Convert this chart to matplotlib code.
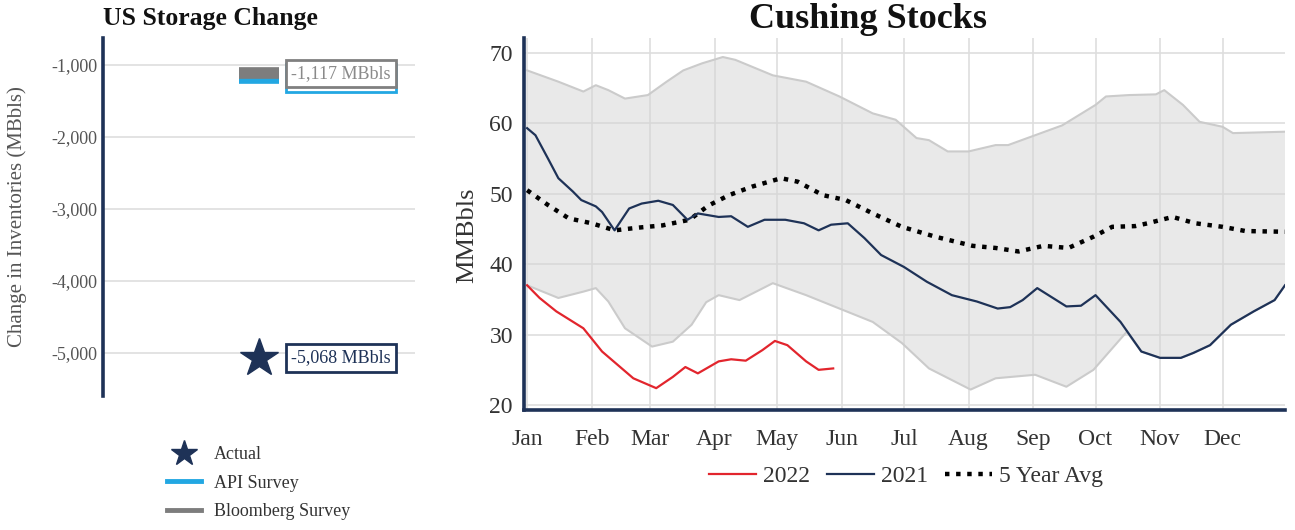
import numpy as np
import matplotlib
matplotlib.use("Agg")
import matplotlib.pyplot as plt
from matplotlib.lines import Line2D
from matplotlib.patches import Rectangle

plt.rcParams['font.family'] = ['Liberation Serif', 'DejaVu Serif']

# ---- US storage change (MBbls) ----
actual_change = -5068
api_survey = -1180
bloomberg_survey = -1117
storage_ticks = [-1000, -2000, -3000, -4000, -5000]
storage_tick_labels = ["-1,000", "-2,000", "-3,000", "-4,000", "-5,000"]

# ---- Cushing stocks (MMBbls), x = day of year ----
month_labels = ["Jan", "Feb", "Mar", "Apr", "May", "Jun",
                "Jul", "Aug", "Sep", "Oct", "Nov", "Dec"]
month_starts = [0, 31, 59, 90, 120, 151, 181, 212, 243, 273, 304, 334]

days_2022 = [0, 6, 14, 27, 36, 51, 62, 70, 76, 82, 92, 98, 105, 113, 119, 125, 134, 140, 147]
stocks_2022 = [37, 35.2, 33.3, 30.9, 27.6, 23.8, 22.4, 24, 25.4, 24.5, 26.2, 26.5, 26.3,
               27.8, 29.1, 28.5, 26.2, 25, 25.2]

days_2021 = [0, 4, 10, 15, 22, 26, 33, 36, 42, 49, 55, 63, 70, 77, 82, 86, 92, 98, 106, 114,
             124, 133, 140, 146, 154, 162, 170, 181, 192, 204, 216, 226, 232, 238, 245, 259,
             266, 273, 285, 295, 304, 314, 320, 328, 338, 349, 359, 364]
stocks_2021 = [59.3, 58.3, 55, 52.2, 50.3, 49.1, 48.2, 47.4, 44.8, 47.9, 48.6, 49, 48.4, 46.3,
               47.2, 47, 46.7, 46.8, 45.3, 46.3, 46.3, 45.8, 44.8, 45.6, 45.8, 43.7, 41.3, 39.6,
               37.5, 35.6, 34.7, 33.7, 33.9, 34.9, 36.6, 34, 34.1, 35.6, 31.8, 27.6, 26.7, 26.7,
               27.4, 28.5, 31.4, 33.3, 34.9, 37]

days_avg = [0, 10, 20, 31, 42, 54, 65, 78, 87, 97, 108, 122, 130, 142, 153, 166, 180, 196,
            214, 225, 236, 248, 260, 272, 281, 292, 298, 310, 321, 334, 345, 364]
stocks_avg = [50.5, 48.4, 46.5, 45.8, 44.8, 45.2, 45.5, 46.3, 48.3, 49.8, 51, 52.2, 51.7,
              49.8, 49.1, 47.2, 45.3, 43.9, 42.6, 42.3, 41.8, 42.6, 42.3, 43.9, 45.3, 45.4,
              45.8, 46.7, 45.8, 45.3, 44.7, 44.6]

days_max = [0, 15, 27, 33, 39, 47, 58, 67, 75, 84, 94, 100, 118, 134, 150, 166, 177, 187,
            193, 202, 212, 225, 231, 244, 257, 273, 278, 289, 302, 306, 315, 323, 334, 339, 364]
stocks_max = [67.5, 65.9, 64.5, 65.4, 64.7, 63.5, 64, 65.9, 67.5, 68.5, 69.4, 69, 66.8, 65.9,
              63.8, 61.4, 60.5, 57.9, 57.6, 56, 56, 56.9, 56.9, 58.3, 59.7, 62.6, 63.8, 64,
              64.1, 64.7, 62.6, 60.2, 59.5, 58.6, 58.8]

days_min = [0, 15, 27, 33, 39, 47, 60, 70, 79, 86, 92, 102, 118, 134, 150, 166, 180, 193,
            213, 225, 244, 259, 272, 288, 295, 304, 314, 320, 328, 338, 349, 359, 364]
stocks_min = [37, 35.2, 36.1, 36.6, 34.7, 30.9, 28.3, 29, 31.4, 34.6, 35.6, 34.9, 37.3, 35.6,
              33.7, 31.8, 28.8, 25.2, 22.2, 23.8, 24.3, 22.6, 25, 30.4, 27.6, 26.7, 26.7, 27.4,
              28.5, 31.4, 33.3, 34.9, 37]

NAVY = "#1e3257"
RED = "#e2252d"
API_BLUE = "#22a7e2"
BBG_GREY = "#7d7d7d"
GRID = "#dedede"

W, H = 1295, 530
fig = plt.figure(figsize=(W / 100, H / 100), dpi=100)
fig.patch.set_facecolor("white")

# ================= left panel =================
ax1 = fig.add_axes([103 / W, 1 - 396 / H, 312 / W, 358 / H])
ax1.set_xlim(-1, 1)
ax1.set_ylim(-5602, -624)
ax1.set_yticks(storage_ticks)
ax1.set_yticklabels(storage_tick_labels)
ax1.set_xticks([])
ax1.yaxis.grid(True, color=GRID, lw=1.2)
ax1.set_axisbelow(True)
for s in ["top", "right", "bottom"]:
    ax1.spines[s].set_visible(False)
ax1.spines["left"].set_color(NAVY)
ax1.spines["left"].set_linewidth(2.6)
ax1.tick_params(axis="y", length=0, pad=4, labelsize=13, labelcolor="#555555")
ax1.set_ylabel("Change in Inventories (MBbls)", fontsize=15, color="#555555")
ax1.yaxis.set_label_coords(-0.244, 0.5)

ax1.plot([0], [api_survey], marker="_", ms=29, mew=8.4, color=API_BLUE, ls="none", zorder=3)
ax1.plot([0], [bloomberg_survey], marker="_", ms=29, mew=8.4, color=BBG_GREY, ls="none", zorder=4)
ax1.plot([0], [actual_change], marker="*", ms=29, color=NAVY, ls="none", zorder=4)


def value_box(y, color, text_color, z):
    return ax1.text(0.205, y, f"{y:,} MBbls", ha="left", va="center",
                    fontsize=13, color=text_color, zorder=z,
                    bbox=dict(boxstyle="square,pad=0.3", fc="white", ec=color, lw=2))


bbg_label = value_box(bloomberg_survey, "#808080", "#8a8a8a", 7)
value_box(actual_change, NAVY, NAVY, 6)

# API survey box sits just behind the Bloomberg box, shifted by the value gap
fig.canvas.draw()
bb = bbg_label.get_bbox_patch().get_window_extent()
inv = ax1.transData.inverted()
(bx0, by0), (bx1, by1) = inv.transform([(bb.x0, bb.y0), (bb.x1, bb.y1)])
ax1.add_patch(Rectangle((bx0, by0 + (api_survey - bloomberg_survey)), bx1 - bx0, by1 - by0,
                        facecolor="white", edgecolor=API_BLUE, lw=2, zorder=5, clip_on=False))

left_handles = [
    Line2D([], [], marker="*", ms=19, color=NAVY, ls="none"),
    Line2D([], [], color=API_BLUE, lw=3.5),
    Line2D([], [], color=BBG_GREY, lw=3.5),
]
fig.legend(left_handles, ["Actual", "API Survey", "Bloomberg Survey"],
           loc="upper left", bbox_to_anchor=(167 / W, 1 - 446 / H),
           frameon=False, fontsize=13, handlelength=1.9, handletextpad=0.7,
           labelspacing=0.64, borderpad=0, borderaxespad=0, labelcolor="#333333")

fig.text(103 / W, 1 - 18 / H, "US Storage Change", fontsize=18.5, fontweight="bold",
         ha="left", va="center", color="#111111")

# ================= right panel =================
ax2 = fig.add_axes([524 / W, 1 - 410 / H, 761 / W, 372 / H])
ax2.set_xlim(-1.5, 364)
ax2.set_ylim(19.3, 72.1)
ax2.set_yticks([20, 30, 40, 50, 60, 70])
ax2.set_xticks(month_starts)
ax2.set_xticklabels(month_labels)
ax2.grid(True, color=GRID, lw=1.2)
ax2.set_axisbelow(True)
for s in ["top", "right"]:
    ax2.spines[s].set_visible(False)
for s in ["left", "bottom"]:
    ax2.spines[s].set_color(NAVY)
    ax2.spines[s].set_linewidth(2.6)
ax2.tick_params(length=0, labelsize=17, labelcolor="#333333")
ax2.tick_params(axis="y", pad=8)
ax2.tick_params(axis="x", pad=14)
ax2.set_ylabel("MMBbls", fontsize=19, color="#333333")
ax2.yaxis.set_label_coords(-0.060, 0.47)

band_x = np.concatenate([days_max, days_min[::-1]])
band_y = np.concatenate([stocks_max, stocks_min[::-1]])
ax2.fill(band_x, band_y, facecolor="#d4d4d4", alpha=0.5, edgecolor="none", zorder=1)
ax2.plot(days_max, stocks_max, color="#cbcbcb", lw=1.5, zorder=1.5)
ax2.plot(days_min, stocks_min, color="#cbcbcb", lw=1.5, zorder=1.5)

ax2.plot(days_avg, stocks_avg, color="black", lw=3.2, ls=(0, (1, 1.5)),
         dash_capstyle="butt", zorder=3, label="5 Year Avg")
l21, = ax2.plot(days_2021, stocks_2021, color=NAVY, lw=1.6, zorder=4, label="2021")
l22, = ax2.plot(days_2022, stocks_2022, color=RED, lw=1.6, zorder=5, label="2022")

h_avg = Line2D([], [], color="black", lw=3.2, ls=(0, (1, 1.5)), dash_capstyle="butt")
fig.legend([l22, l21, h_avg], ["2022", "2021", "5 Year Avg"], loc="center",
           bbox_to_anchor=(906 / W, 1 - 476 / H), ncol=3, frameon=False, fontsize=17,
           handlelength=2.0, handletextpad=0.3, columnspacing=0.7, labelcolor="#333333")

fig.text(868 / W, 1 - 20 / H, "Cushing Stocks", fontsize=26, fontweight="bold",
         ha="center", va="center", color="#111111")

fig.savefig("out.png", dpi=100, facecolor="white")
